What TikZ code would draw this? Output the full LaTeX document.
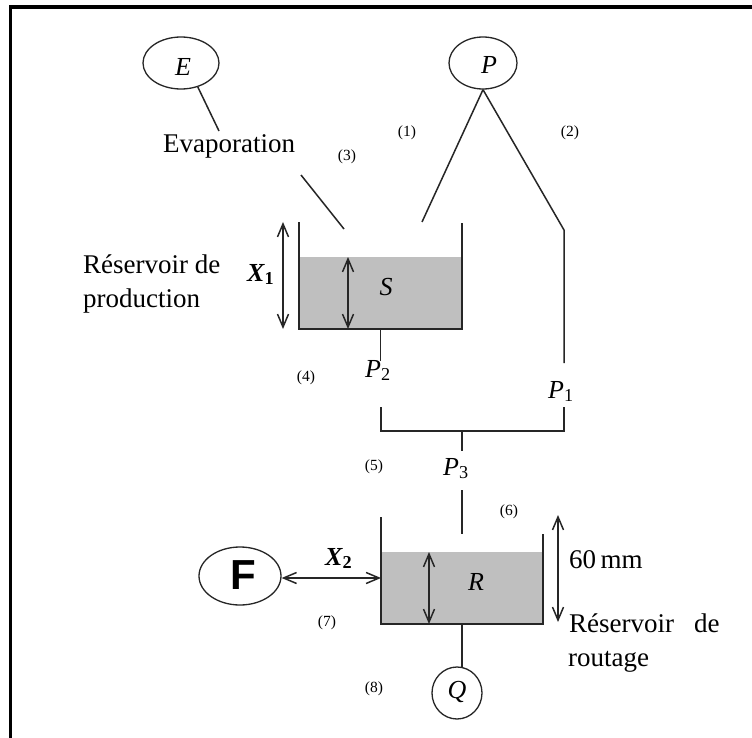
\documentclass[tikz,border=0pt]{standalone}
\usepackage{fontspec}
\setmainfont{Liberation Serif}
\newfontfamily\helvb{Liberation Sans}
\usetikzlibrary{shapes.geometric,arrows.meta}
\tikzset{
  x=1pt,y=-1pt,
  ln/.style={draw=black!85,line width=1.5pt},
  tank/.style={draw=black!85,line width=1.6pt},
  water/.style={fill=black!25,draw=none},
  dbl/.style={ln,{Straight Barb[length=13pt,width=11pt]}-{Straight Barb[length=13pt,width=11pt]}},
  oval/.style={ellipse,draw=black!85,line width=1.3pt,inner sep=0pt,font=\fontsize{26}{26}\selectfont\itshape},
  txt/.style={anchor=base west,inner sep=0pt,font=\fontsize{27}{27}\selectfont},
  sym/.style={anchor=center,inner sep=0pt,font=\fontsize{26}{26}\selectfont\itshape},
  num/.style={anchor=center,inner sep=0pt,font=\fontsize{15.5}{15.5}\selectfont}
}
\begin{document}
\begin{tikzpicture}
\useasboundingbox (0,0) rectangle (752,738);
\fill[white] (0,0) rectangle (752,738);
% frame
\coordinate (fa) at (10.5,738);
\coordinate (fb) at (10.5,7);
\coordinate (fc) at (752,7);
\draw[line width=3.5pt,black,line join=miter] (fa) -- (fb) -- (fc);
% water
\fill[water] (299,257) rectangle (462,329);
\fill[water] (381,552) rectangle (543,624);
% tanks
\coordinate (Sa) at (299,222);
\coordinate (Sb) at (299,329);
\coordinate (Sc) at (462,329);
\coordinate (Sd) at (462,223);
\coordinate (Ra) at (381,517);
\coordinate (Rb) at (381,624);
\coordinate (Rc) at (543,624);
\coordinate (Rd) at (543,534);
\draw[tank] (Sa) -- (Sb) -- (Sc) -- (Sd);
\draw[tank] (Ra) -- (Rb) -- (Rc) -- (Rd);
% ovals
\node[oval,minimum width=76pt,minimum height=52pt] (E) at (181,63) {};
\node[sym] at (183,67) {E};
\node[oval,minimum width=68pt,minimum height=52pt] (P) at (483,63) {};
\node[sym] at (489,65) {P};
\node[oval,minimum width=82pt,minimum height=58pt] (F) at (240,576) {};
\node[anchor=center,inner sep=0pt,font=\helvb\bfseries\fontsize{42}{42}\selectfont] at (243,575) {F};
\node[oval,minimum width=50pt,minimum height=52pt] (Q) at (457,693) {};
\node[sym] at (457,692) {Q};
% connector ends
\coordinate (e1) at (219,131);
\coordinate (e2) at (301,175);
\coordinate (e3) at (344,229);
\coordinate (p1) at (422,222);
\coordinate (p2) at (564,230);
\coordinate (p3) at (564,363);
\coordinate (s1) at (380.5,329);
\coordinate (s2) at (380.5,361);
\coordinate (j1) at (381,407);
\coordinate (j2) at (381,431);
\coordinate (j3) at (564,431);
\coordinate (j4) at (564,407);
\coordinate (j5) at (462,431);
\coordinate (j6) at (462,451);
\coordinate (j7) at (462,490);
\coordinate (j8) at (462,534);
\coordinate (q1) at (462,624);
\coordinate (x1a) at (283,222);
\coordinate (x1b) at (283,329);
\coordinate (sa) at (348,257);
\coordinate (sb) at (348,329);
\coordinate (ra) at (429,552);
\coordinate (rb) at (429,624);
\coordinate (ma) at (558,515);
\coordinate (mb) at (558,622);
\coordinate (fr) at (381,578);
% connectors
\draw[ln] (E.-55) -- (e1);
\draw[ln] (e2) -- (e3);
\draw[ln] (P.south) -- (p1);
\draw[ln,line join=miter] (P.south) -- (p2) -- (p3);
\draw[ln] (s1) -- (s2);
\draw[ln] (j1) -- (j2) -- (j3) -- (j4);
\draw[ln] (j5) -- (j6);
\draw[ln] (j7) -- (j8);
\draw[ln] (q1) -- (q1 |- Q.80);
\draw[dbl] (x1a) -- (x1b);
\draw[dbl] (sa) -- (sb);
\draw[dbl] (ra) -- (rb);
\draw[dbl] (ma) -- (mb);
\draw[dbl] (F.east |- fr) -- (fr);
% text
\node[txt] at (163,153) {Evaporation};
\node[txt] at (83,273) {Réservoir de};
\node[txt] at (83,307) {production};
\node[txt] at (569,568) {60\,mm};
\node[txt] at (569,632) {Réservoir};
\node[txt] at (694,632) {de};
\node[txt] at (568,666) {routage};
\node[sym] at (386,287) {S};
\node[sym] at (476,582) {R};
\node[anchor=base west,inner sep=0pt,font=\fontsize{26}{26}\selectfont\itshape] at (365,377) {P$_{\mathrm{2}}$};
\node[anchor=base west,inner sep=0pt,font=\fontsize{26}{26}\selectfont\itshape] at (548,398) {P$_{\mathrm{1}}$};
\node[anchor=base west,inner sep=0pt,font=\fontsize{26}{26}\selectfont\itshape] at (443,475) {P$_{\mathrm{3}}$};
\node[anchor=base west,inner sep=0pt,font=\fontsize{26}{26}\selectfont\bfseries\itshape] at (247,281) {X$_{\mathbf{1}}$};
\node[anchor=base west,inner sep=0pt,font=\fontsize{26}{26}\selectfont\bfseries\itshape] at (325,565) {X$_{\mathbf{2}}$};
\node[num] at (407,133) {(1)};
\node[num] at (570,133) {(2)};
\node[num] at (347,157) {(3)};
\node[num] at (306,378) {(4)};
\node[num] at (374,467) {(5)};
\node[num] at (509,512) {(6)};
\node[num] at (327,623) {(7)};
\node[num] at (374,689) {(8)};
\end{tikzpicture}
\end{document}
